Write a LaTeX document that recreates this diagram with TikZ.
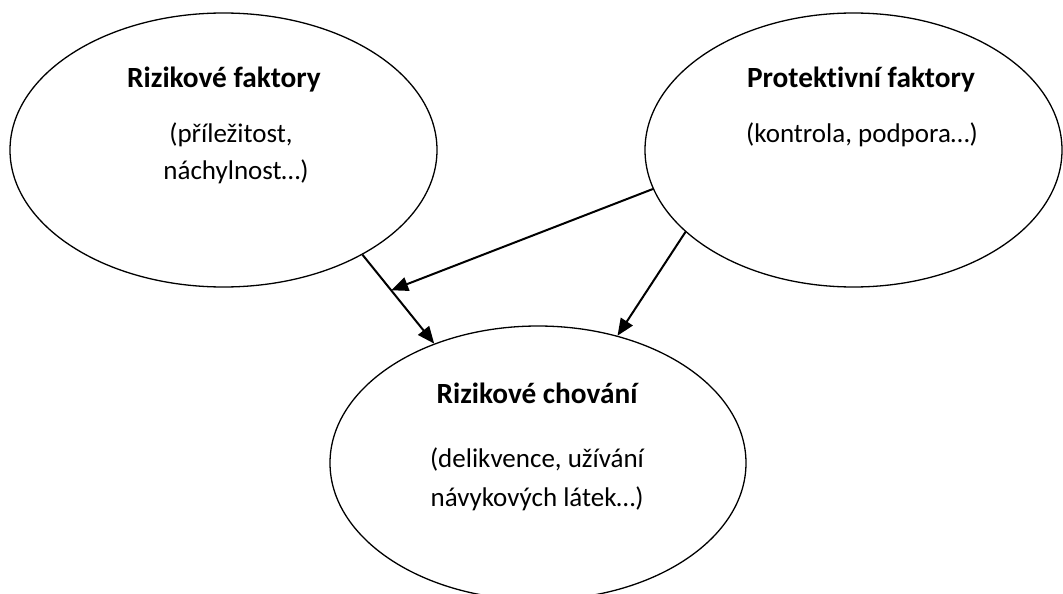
\documentclass[tikz,border=0pt]{standalone}
\usepackage{fontspec}
\setmainfont[Ligatures=NoCommon]{Carlito}
\usetikzlibrary{shapes.geometric,arrows.meta}
\tikzset{ell/.style={ellipse,draw,line width=1.3pt,inner sep=0pt},
  txt/.style={anchor=base,font=\fontsize{27}{33}\selectfont},
  ttl/.style={anchor=base,font=\fontsize{29.3}{35}\selectfont\bfseries}}

\begin{document}
\begin{tikzpicture}[x=1pt,y=-1pt,>={Triangle[length=17pt,width=14pt]}]
        \useasboundingbox (0,0) rectangle (1063,594);
        \clip (0,0) rectangle (1063,594);

        \node[ell,minimum width=427pt,minimum height=274pt] (rf) at (223.5,150) {};
        \node[ell,minimum width=417pt,minimum height=274pt] (pf) at (853.5,150) {};
        \node[ell,minimum width=416pt,minimum height=274pt] (rc) at (538,463) {};

        \node[ttl] (rft) at (224,88) {Rizikové faktory};
        \node[txt] (rf1) at (231,142) {(příležitost,};
        \node[txt] (rf2) at (236,179) {náchylnost…)};
        \node[ttl] (pft) at (861,88) {Protektivní faktory};
        \node[txt] (pf1) at (862,142) {(kontrola, podpora…)};
        \node[ttl] (rct) at (537,403) {Rizikové chování};
        \node[txt] (rc1) at (537,467) {(delikvence, užívání};
        \node[txt] (rc2) at (537,506) {návykových látek…)};

        \draw [->,line width=2pt] (rf.-37.6) -- coordinate[pos=0.4] (mid) (rc.131.9);
        \draw [->,line width=2pt] (pf.191.2) -- (mid);
        \draw [->,line width=2pt] (pf.206.3) -- (rc.58.4);
    \end{tikzpicture}
\end{document}
